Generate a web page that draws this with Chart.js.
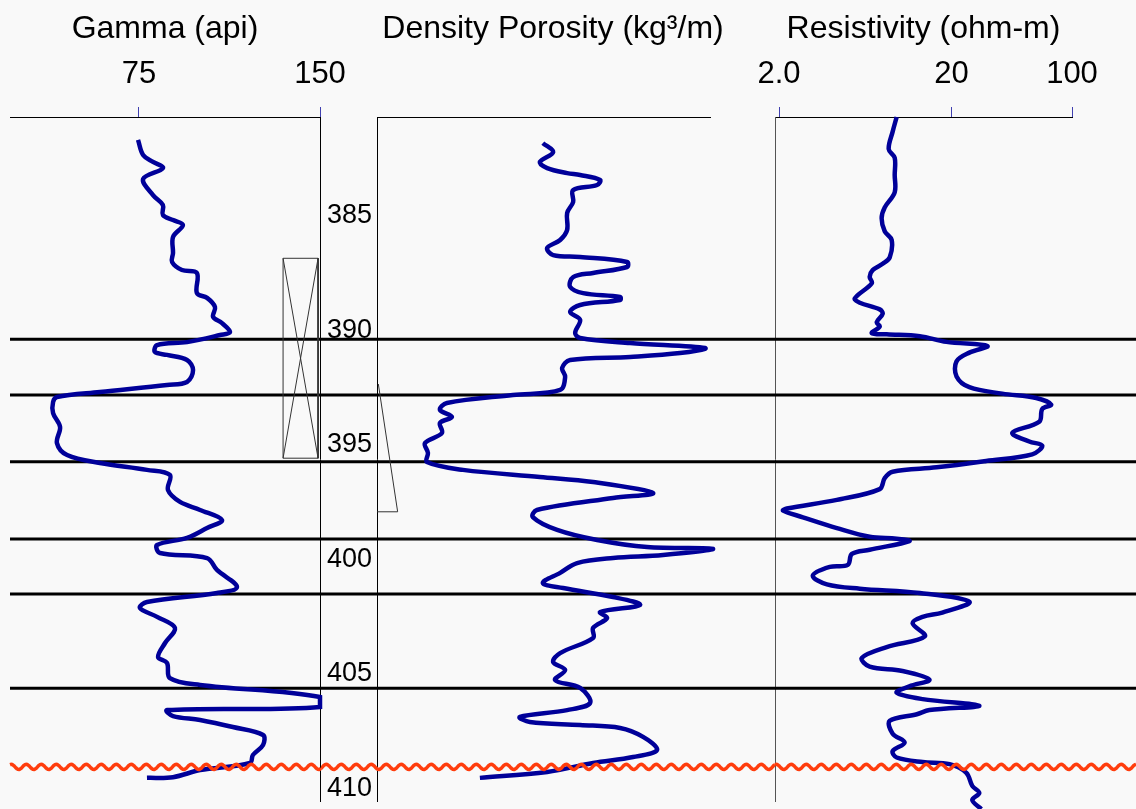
<!DOCTYPE html>
<html>
<head>
<meta charset="utf-8">
<script src="https://cdn.jsdelivr.net/npm/chart.js@4.4.0/dist/chart.umd.min.js"></script>
<style>
  body { margin: 0; background: #f9f9f9; }
  #wrap { position: relative; width: 1136px; height: 809px; overflow: hidden; }
  canvas { position: absolute; top: 0; }
</style>
</head>
<body>
<div id="wrap">
  <canvas id="gamma" width="365" height="809" style="left:0px"></canvas>
  <canvas id="density" width="464" height="830" style="left:321px"></canvas>
  <canvas id="resist" width="406" height="809" style="left:730px"></canvas>
</div>
<script>
// depth range shown and depth labels
let depthMin = 381.07;
let depthMax = 410.94;
let depthTicks = [385, 390, 395, 400, 405, 410];

// formation tops (black lines) and unconformity (red wavy line)
let markerDepths = [390.78, 393.21, 396.12, 399.50, 401.90, 406.02];
let unconformityDepth = 409.45;

// gamma ray log
let gammaTicks = [75, 150];
let gammaDepth = [382.07, 382.73, 383.03, 383.30, 383.78, 384.48, 384.91, 385.35, 385.57, 385.79,
  386.31, 387.01, 387.40, 387.75, 387.88, 388.76, 388.97, 389.37, 389.80, 390.07,
  390.46, 390.59, 390.90, 391.03, 391.33, 391.46, 391.68, 392.12, 392.64, 392.77,
  393.08, 393.30, 393.52, 394.00, 394.61, 395.31, 395.83, 396.18, 396.48, 396.70,
  397.36, 397.88, 398.23, 398.67, 399.02, 399.45, 399.76, 400.11, 400.33, 400.85,
  401.59, 401.86, 402.25, 402.51, 402.90, 403.38, 404.04, 404.65, 404.91, 405.57,
  405.87, 406.40, 406.83, 406.97, 407.23, 407.40, 407.71, 408.06, 408.49, 408.93,
  409.28, 409.59, 409.90, 409.93];
let gammaApi = [74.6, 76.7, 80.8, 84.9, 76.7, 80.8, 84.9, 84.9, 89.1, 93.2,
  89.1, 89.1, 88.7, 92.8, 99.0, 99.0, 103.2, 106.5, 105.7, 109.4,
  112.7, 108.6, 94.9, 82.5, 81.6, 86.6, 94.9, 97.4, 94.9, 86.6,
  58.8, 41.0, 39.4, 39.4, 42.3, 41.0, 45.2, 58.8, 78.3, 87.8,
  87.0, 92.0, 100.3, 109.4, 103.2, 94.9, 82.5, 83.7, 103.2, 107.3,
  115.6, 107.3, 78.3, 75.4, 82.5, 89.9, 85.8, 82.9, 86.6, 87.8,
  100.3, 150, 150, 86.6, 89.1, 100.3, 113.9, 126.4, 126.4, 122.2,
  121.0, 100.3, 89.1, 78.3];

// core symbol in the gamma track
let coreDepths = [387.24, 395.97];
let coreApi = [134.7, 149.2];

// density porosity log
let densDepth = [382.21, 382.60, 383.03, 383.30, 383.52, 383.60, 383.82, 384.04, 384.26, 384.78,
  385.26, 386.00, 386.44, 386.79, 387.10, 387.18, 387.40, 387.62, 387.88, 388.06,
  388.49, 388.76, 388.93, 389.06, 389.28, 389.59, 389.93, 390.50, 390.72, 390.94,
  391.16, 391.38, 391.55, 391.68, 392.03, 392.42, 392.99, 393.21, 393.56, 393.86,
  394.17, 394.43, 394.87, 395.31, 395.74, 396.14, 396.48, 396.79, 397.01, 397.49,
  397.71, 398.23, 398.54, 399.10, 399.54, 399.85, 399.93, 400.20, 400.33, 400.55,
  400.98, 401.42, 401.64, 402.03, 402.38, 402.69, 402.95, 403.38, 403.82, 404.48,
  404.87, 405.22, 405.66, 406.00, 406.66, 406.97, 407.27, 407.49, 407.62, 407.75,
  408.14, 408.71, 409.02, 409.28, 409.67, 409.93];
let densPor = [49.8, 52.9, 48.9, 51.1, 57.1, 61.0, 67.0, 66.1, 58.9, 58.9,
  57.1, 57.1, 55.0, 51.1, 52.9, 61.0, 75.1, 75.1, 64.9, 58.9,
  58.0, 61.9, 73.0, 73.0, 61.0, 58.0, 61.0, 59.5, 61.0, 76.0,
  98.5, 91.0, 76.0, 58.0, 55.6, 56.5, 55.0, 40.8, 21.0, 18.9,
  22.5, 18.9, 19.5, 14.4, 15.3, 15.0, 25.8, 48.9, 64.9, 82.9,
  70.9, 48.0, 46.8, 54.1, 66.1, 81.1, 100.9, 85.9, 70.9, 60.1,
  55.0, 49.8, 55.9, 70.9, 79.0, 67.0, 69.1, 64.9, 64.9, 55.0,
  52.9, 56.5, 53.5, 61.0, 64.0, 57.1, 42.9, 45.9, 61.0, 73.0,
  79.9, 84.1, 76.9, 64.9, 51.1, 30.9];

// wedge symbol in the density track
let wedgeDepths = [392.73, 398.31, 398.31];
let wedgePor = [0.4, 6.2, 0];

// resistivity log
let resTicks = [2, 20, 100];
let resTickLabels = ['2.0', '20', '100'];
let resDepth = [381.07, 381.71, 382.47, 382.85, 383.60, 384.36, 385.02, 385.49, 386.06, 386.44,
  387.20, 387.48, 387.76, 388.05, 388.33, 388.99, 389.18, 389.47, 389.66, 390.03,
  390.22, 390.51, 390.56, 390.64, 390.89, 391.07, 391.36, 391.74, 392.40, 392.87,
  393.15, 393.34, 393.63, 393.82, 394.38, 394.86, 395.24, 395.42, 395.80, 396.09,
  396.37, 396.56, 396.84, 397.32, 397.79, 398.17, 398.26, 398.55, 399.02, 399.40,
  399.49, 399.59, 399.97, 400.15, 400.63, 400.72, 401.10, 401.48, 401.67, 401.86,
  402.24, 402.71, 402.90, 403.18, 403.75, 404.22, 404.69, 405.07, 405.26, 405.64,
  405.93, 406.21, 406.49, 406.78, 406.97, 407.15, 407.44, 408.00, 408.38, 408.76,
  409.04, 409.24, 409.33, 409.71, 410.28, 410.59, 410.90, 411.29];
let resOhm = [9.62, 9.12, 8.65, 9.37, 9.37, 9.37, 8.20, 7.87, 8.20, 9.00,
  8.77, 7.98, 6.98, 6.71, 6.90, 5.50, 5.88, 7.67, 7.98, 7.37,
  7.67, 6.90, 8.42, 13.1, 18.7, 32.3, 25.4, 21.4, 21.4, 25.4,
  39.4, 62.0, 75.7, 67.2, 64.6, 45.1, 56.5, 67.2, 58.8, 31.8,
  16.4, 9.12, 8.20, 7.67, 4.33, 2.22, 2.11, 2.75, 4.33, 6.71,
  9.62, 11.4, 6.71, 5.29, 5.01, 3.94, 3.14, 3.79, 5.88, 13.1,
  25.4, 17.7, 13.6, 11.9, 14.0, 8.42, 6.04, 6.71, 10.4, 14.9,
  11.4, 9.62, 13.6, 29.0, 14.9, 12.6, 8.77, 9.12, 10.7, 9.12,
  9.62, 13.6, 19.5, 24.4, 26.4, 29.0, 26.4, 29.8];

const font = "'Liberation Sans', Arial, sans-serif";
const curveBlue = '#000099';

function toPts(xs, ys) {
  return xs.map((v, i) => ({ x: v, y: ys[i] }));
}

function curve(xs, ys) {
  return { data: toPts(xs, ys), borderColor: curveBlue, borderWidth: 4.5, pointRadius: 0,
    tension: 0.35, fill: false, clip: false };
}

function thinLine(pts) {
  return { data: pts, borderColor: '#333', borderWidth: 1, pointRadius: 0, tension: 0, fill: false };
}

// black marker lines under the curves, red wavy line over them.
// each chart draws its own slice of the page (from/to are page x)
const markerPlugin = {
  id: 'markers',
  beforeDatasetsDraw(chart, args, opts) {
    const ys = chart.scales.y, ctx = chart.ctx;
    const off = chart.canvas.offsetLeft;
    ctx.save();
    ctx.strokeStyle = '#000';
    ctx.lineWidth = 3;
    markerDepths.forEach(d => {
      const py = ys.getPixelForValue(d);
      ctx.beginPath();
      ctx.moveTo(opts.from - off, py);
      ctx.lineTo(opts.to - off, py);
      ctx.stroke();
    });
    ctx.restore();
  },
  afterDatasetsDraw(chart, args, opts) {
    const ys = chart.scales.y, ctx = chart.ctx;
    const off = chart.canvas.offsetLeft;
    const py = ys.getPixelForValue(unconformityDepth);
    ctx.save();
    ctx.strokeStyle = '#ff3d0d';
    ctx.lineWidth = 3.5;
    ctx.lineJoin = 'round';
    ctx.beginPath();
    for (let x = opts.from; x <= opts.to; x++) {
      const yy = py + 2.6 * Math.sin(x * 2 * Math.PI / 15);
      if (x === opts.from) ctx.moveTo(x - off, yy); else ctx.lineTo(x - off, yy);
    }
    ctx.stroke();
    ctx.restore();
  }
};

function title(text, fullSize) {
  return { display: true, text: text, fullSize: fullSize, color: '#000',
    font: { family: font, size: 32, weight: 'normal' }, padding: { top: 10, bottom: 0 } };
}

function depthAxis(extra) {
  return Object.assign({
    type: 'linear', reverse: true, min: depthMin, max: depthMax,
    ticks: { display: false }, grid: { display: false, drawTicks: false },
    border: { display: true, color: '#000', width: 1 }
  }, extra);
}

function topAxisHeight(s) {
  s.height = 117 - s.chart.titleBlock.height;
}

const common = {
  responsive: false, animation: false, events: [],
  plugins: { legend: { display: false }, tooltip: { enabled: false } }
};

// gamma track
new Chart(document.getElementById('gamma'), {
  type: 'line',
  data: {
    datasets: [
      curve(gammaApi, gammaDepth),
      thinLine([
        { x: coreApi[0], y: coreDepths[0] }, { x: coreApi[1], y: coreDepths[0] },
        { x: coreApi[1], y: coreDepths[1] }, { x: coreApi[0], y: coreDepths[1] },
        { x: coreApi[0], y: coreDepths[0] }, { x: coreApi[1], y: coreDepths[1] },
        { x: coreApi[1], y: coreDepths[0] }, { x: coreApi[0], y: coreDepths[1] }
      ])
    ]
  },
  options: Object.assign({}, common, {
    layout: { autoPadding: false, padding: { left: 10, right: 0, top: 0, bottom: 8 } },
    plugins: Object.assign({}, common.plugins, { title: title('Gamma (api)', false), markers: { from: 10, to: 321 } }),
    scales: {
      x: {
        type: 'linear', position: 'top', min: 21.55, max: 150,
        afterBuildTicks: s => { s.ticks = gammaTicks.map(v => ({ value: v })); },
        ticks: { color: '#000', font: { family: font, size: 31 }, padding: 14, maxRotation: 0 },
        grid: { drawOnChartArea: false, drawTicks: true, tickLength: 10, color: '#4040b0' },
        border: { display: true, color: '#000', width: 1 },
        afterFit: topAxisHeight
      },
      y: depthAxis({ position: 'right', afterFit: s => { s.width = 45; } })
    }
  }),
  plugins: [markerPlugin]
});

// density track (with the depth labels on its left)
new Chart(document.getElementById('density'), {
  type: 'line',
  data: {
    datasets: [
      curve(densPor, densDepth),
      thinLine(toPts(wedgePor, wedgeDepths))
    ]
  },
  options: Object.assign({}, common, {
    layout: { autoPadding: false, padding: { left: 0, right: 0, top: 0, bottom: 29 } },
    plugins: Object.assign({}, common.plugins, { title: title('Density Porosity (kg\u00b3/m)', true), markers: { from: 321, to: 775 } }),
    scales: {
      x: {
        type: 'linear', position: 'top', min: 0, max: 100,
        ticks: { display: false }, grid: { display: false },
        border: { display: true, color: '#000', width: 1 },
        afterFit: topAxisHeight
      },
      y: depthAxis({
        position: 'left',
        afterBuildTicks: s => { s.ticks = depthTicks.map(v => ({ value: v })); },
        ticks: { display: true, color: '#000', font: { family: font, size: 27 }, padding: 5, labelOffset: 9 },
        afterFit: s => { s.width = 56; }
      }),
      yr: {
        type: 'linear', position: 'right', display: true,
        ticks: { display: false }, grid: { display: false }, border: { display: false },
        afterFit: s => { s.width = 75; }
      }
    }
  }),
  plugins: [markerPlugin]
});

// resistivity track
new Chart(document.getElementById('resist'), {
  type: 'line',
  data: { datasets: [curve(resOhm, resDepth)] },
  options: Object.assign({}, common, {
    layout: { autoPadding: false, padding: { left: 0, right: 64, top: 0, bottom: 8 } },
    plugins: Object.assign({}, common.plugins, { title: title('Resistivity (ohm-m)', false), markers: { from: 775, to: 1136 } }),
    scales: {
      x: {
        type: 'logarithmic', position: 'top', min: 1.895, max: 100,
        afterBuildTicks: s => { s.ticks = resTicks.map(v => ({ value: v })); },
        ticks: { color: '#000', font: { family: font, size: 31 }, padding: 14, maxRotation: 0,
          callback: (v, i) => resTickLabels[i] },
        grid: { drawOnChartArea: false, drawTicks: true, tickLength: 10, color: '#4040b0' },
        border: { display: true, color: '#000', width: 1 },
        afterFit: topAxisHeight
      },
      y: depthAxis({ position: 'left', border: { display: true, color: '#555', width: 1 },
        afterFit: s => { s.width = 45; } })
    }
  }),
  plugins: [markerPlugin]
});
</script>
</body>
</html>
